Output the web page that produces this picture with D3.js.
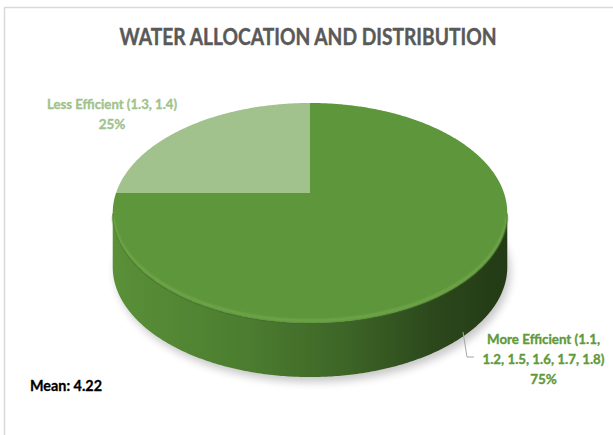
<!DOCTYPE html>
<html>
<head>
<meta charset="utf-8">
<script src="https://cdn.jsdelivr.net/npm/d3@7"></script>
<style>
  html, body { margin: 0; padding: 0; background: #fff; }
  svg { display: block; }
  text { font-family: Lato, "Open Sans", "Liberation Sans", sans-serif; font-weight: 700; }
</style>
</head>
<body>
<svg id="chart" width="613" height="435"></svg>
<script>
// Chart data
const title = "WATER ALLOCATION AND DISTRIBUTION";
const categories = ["Less Efficient (1.3, 1.4)", "More Efficient (1.1, 1.2, 1.5, 1.6, 1.7, 1.8)"];
const labelLines = [["Less Efficient (1.3, 1.4)"], ["More Efficient (1.1,", "1.2, 1.5, 1.6, 1.7, 1.8)"]];
const values = [25, 75];
const meanText = "Mean: 4.22";

const W = 613, H = 435;
const svg = d3.select("#chart");

// Perspective projection of the unit disc onto the page (tilted 3D pie)
const cx = 310, cy = 193, rx = 194, ry = 106.4, persp = -0.1818, depth = 54;
function project(a, dz = 0) {
  const X = Math.sin(a), Y = -Math.cos(a);
  const w = 1 + persp * Y;
  return [cx + rx * X / w, cy + ry * Y / w + dz];
}
function arcPoints(a0, a1, dz = 0) {
  const n = Math.max(2, Math.ceil(Math.abs(a1 - a0) / 0.01));
  return d3.range(n + 1).map(i => project(a0 + (a1 - a0) * i / n, dz));
}
const line = d3.line();

const color = d3.scaleOrdinal().domain(categories).range(["#a1c28d", "#5e963b"]);
const labelColor = d3.scaleOrdinal().domain(categories).range(["#a1c28d", "#5f9a3c"]);

const pie = d3.pie().sort(null).startAngle(-Math.PI / 2).endAngle(3 * Math.PI / 2);
const arcs = pie(values);
const total = d3.sum(values);

// Defs: gradients and filters
const defs = svg.append("defs");
const sideGrad = defs.append("linearGradient")
  .attr("id", "sideGrad").attr("gradientUnits", "userSpaceOnUse")
  .attr("x1", cx - 197).attr("x2", cx + 197).attr("y1", 0).attr("y2", 0);
[["0%", "#5a9038"], ["35%", "#4b7c2f"], ["60%", "#3c6426"], ["82%", "#2b471b"], ["100%", "#233a16"]]
  .forEach(([o, c]) => sideGrad.append("stop").attr("offset", o).attr("stop-color", c));

defs.append("filter").attr("id", "shadowBlur").attr("x", "-20%").attr("y", "-20%").attr("width", "140%").attr("height", "140%")
  .append("feGaussianBlur").attr("stdDeviation", 4);
defs.append("filter").attr("id", "rimBlur")
  .append("feGaussianBlur").attr("stdDeviation", 0.8);

// Chart area frame
svg.append("line").attr("x1", 4).attr("x2", W).attr("y1", 7.5).attr("y2", 7.5)
  .attr("stroke", "#d9d9d9").attr("stroke-width", 1.5);
svg.append("line").attr("x1", 4.5).attr("x2", 4.5).attr("y1", 7).attr("y2", H)
  .attr("stroke", "#d9d9d9").attr("stroke-width", 1.5);

// Title
svg.append("text").attr("x", 308).attr("y", 45).attr("text-anchor", "middle")
  .attr("font-size", 22).attr("fill", "#595959")
  .attr("stroke", "#595959").attr("stroke-width", 0.4)
  .attr("textLength", 377).attr("lengthAdjust", "spacingAndGlyphs")
  .text(title);

// Silhouette angles of the side wall (leftmost / rightmost points of the rim)
const silY = -persp;
const aRight = Math.acos(-silY), aLeft = 2 * Math.PI - aRight;

// Soft shadow under the pie
const g = svg.append("g");
g.append("path")
  .attr("d", line(arcPoints(0, 2 * Math.PI, depth + 5).map(p => [p[0] + 3, p[1]])) + "Z")
  .attr("fill", "#000").attr("opacity", 0.22).attr("filter", "url(#shadowBlur)");

// Side wall (visible front part belongs to the larger slice)
const sidePts = arcPoints(aRight, aLeft).concat(arcPoints(aLeft, aRight, depth));
g.append("path").attr("d", line(sidePts) + "Z").attr("fill", "url(#sideGrad)");

// Top faces of the slices
g.selectAll("path.slice").data(arcs).join("path")
  .attr("class", "slice")
  .attr("d", d => line([[cx, cy]].concat(arcPoints(d.startAngle, d.endAngle))) + "Z")
  .attr("fill", (d, i) => color(categories[i]));

// Bevel highlight along the front rim
g.append("path")
  .attr("d", line(arcPoints(aRight + 0.05, aLeft - 0.05, -2.5)))
  .attr("fill", "none").attr("stroke", "#7bb053").attr("stroke-width", 2).attr("opacity", 0.8)
  .attr("filter", "url(#rimBlur)");
g.append("path")
  .attr("d", line(arcPoints(aRight, aLeft, 0.5)))
  .attr("fill", "none").attr("stroke", "#3f6a27").attr("stroke-width", 1.2).attr("opacity", 0.6);

// Data labels
const labelPos = [
  { x: 112, y: 109, widths: [130] },
  { x: 543.5, y: 344, widths: [113, 122] }
];
arcs.forEach((d, i) => {
  const p = labelPos[i];
  const c = labelColor(categories[i]);
  const t = svg.append("text").attr("text-anchor", "middle").attr("font-size", 13.5)
    .attr("fill", c).attr("stroke", c).attr("stroke-width", 0.35);
  labelLines[i].forEach((s, j) => {
    t.append("tspan").attr("x", p.x).attr("y", p.y + j * 20)
      .attr("textLength", p.widths[j]).attr("lengthAdjust", "spacingAndGlyphs").text(s);
  });
  t.append("tspan").attr("x", p.x).attr("y", p.y + labelLines[i].length * 20)
    .text(Math.round(d.value / total * 100) + "%");
});

// Leader line for the larger slice label
svg.append("path").attr("d", "M463,332 L467,357 L474,357")
  .attr("fill", "none").attr("stroke", "#a6a6a6").attr("stroke-width", 1);

// Mean annotation
svg.append("text").attr("x", 30).attr("y", 391).attr("font-size", 14.5).attr("fill", "#000")
  .attr("stroke", "#000").attr("stroke-width", 0.3)
  .attr("textLength", 72).attr("lengthAdjust", "spacingAndGlyphs").text(meanText);
</script>
</body>
</html>
